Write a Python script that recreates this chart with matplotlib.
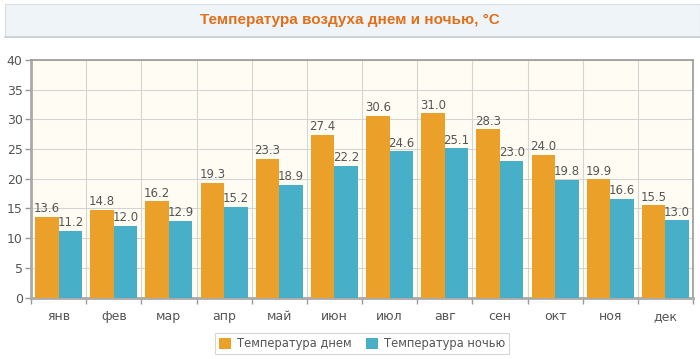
import matplotlib.pyplot as plt
import numpy as np
from matplotlib.patches import Rectangle

months = ["янв", "фев", "мар", "апр", "май", "июн", "июл", "авг", "сен", "окт", "ноя", "дек"]
day_temp = [13.6, 14.8, 16.2, 19.3, 23.3, 27.4, 30.6, 31.0, 28.3, 24.0, 19.9, 15.5]
night_temp = [11.2, 12.0, 12.9, 15.2, 18.9, 22.2, 24.6, 25.1, 23.0, 19.8, 16.6, 13.0]
series_names = ["Температура днем", "Температура ночью"]
title = "Температура воздуха днем и ночью, °C"

orange = "#EBA02A"
blue = "#47B0C8"
text_grey = "#555555"

fig = plt.figure(figsize=(7.0, 3.59), dpi=100)
fig.patch.set_facecolor("white")

# title band
band = Rectangle((0.007, 0.897), 0.993, 0.092, transform=fig.transFigure,
                 facecolor="#EEF4F8", edgecolor="#D8DEE3", linewidth=0.8)
fig.patches.append(band)
fig.lines.append(plt.Line2D([0.007, 1.0], [0.897, 0.897], transform=fig.transFigure,
                            color="#C8CED3", linewidth=1.2))
fig.text(0.5, 0.943, title, ha="center", va="center", color="#E0701A",
         fontsize=11, fontweight="bold", family="Liberation Sans")

ax = fig.add_axes([0.0443, 0.1713, 0.9457, 0.6616])
ax.set_facecolor("#FFFDF3")

x = np.arange(len(months))
width = 0.425
b1 = ax.bar(x - width / 2, day_temp, width, color=orange, label=series_names[0], zorder=3)
b2 = ax.bar(x + width / 2, night_temp, width, color=blue, label=series_names[1], zorder=3)

for bars, vals in ((b1, day_temp), (b2, night_temp)):
    for rect, v in zip(bars, vals):
        ax.text(rect.get_x() + rect.get_width() / 2, v + 0.3, f"{v:.1f}",
                ha="center", va="bottom", fontsize=8.5, color=text_grey, zorder=4)

ax.set_xlim(-0.5, len(months) - 0.5)
ax.set_ylim(0, 40)
ax.set_yticks(np.arange(0, 41, 5))
ax.set_xticks(x)
ax.set_xticklabels(months)
ax.set_xticks(np.arange(-0.5, len(months), 1), minor=True)

ax.grid(axis="y", color="#D4D4D4", linewidth=0.8, zorder=0)
ax.grid(axis="x", which="minor", color="#D4D4D4", linewidth=0.8, zorder=0)

ax.tick_params(axis="x", which="major", length=0, pad=9, labelsize=9, labelcolor=text_grey)
ax.tick_params(axis="x", which="minor", length=4, color="#999999", width=1)
ax.tick_params(axis="y", length=4, color="#999999", width=1, labelsize=9, labelcolor=text_grey, pad=2)

for side in ("left", "bottom"):
    ax.spines[side].set_color("#AAAAAA")
    ax.spines[side].set_linewidth(2)
for side in ("top", "right"):
    ax.spines[side].set_color("#999999")
    ax.spines[side].set_linewidth(1.2)

leg = fig.legend(loc="center", bbox_to_anchor=(0.517, 0.042), ncol=2, frameon=True,
                 fontsize=8.3, handlelength=1.1, handleheight=1.1, handletextpad=0.5,
                 columnspacing=1.2, borderpad=0.35, fancybox=False)
leg.get_frame().set_edgecolor("#CCCCCC")
leg.get_frame().set_linewidth(0.8)
for t in leg.get_texts():
    t.set_color(text_grey)

fig.savefig("out.png", dpi=100)
